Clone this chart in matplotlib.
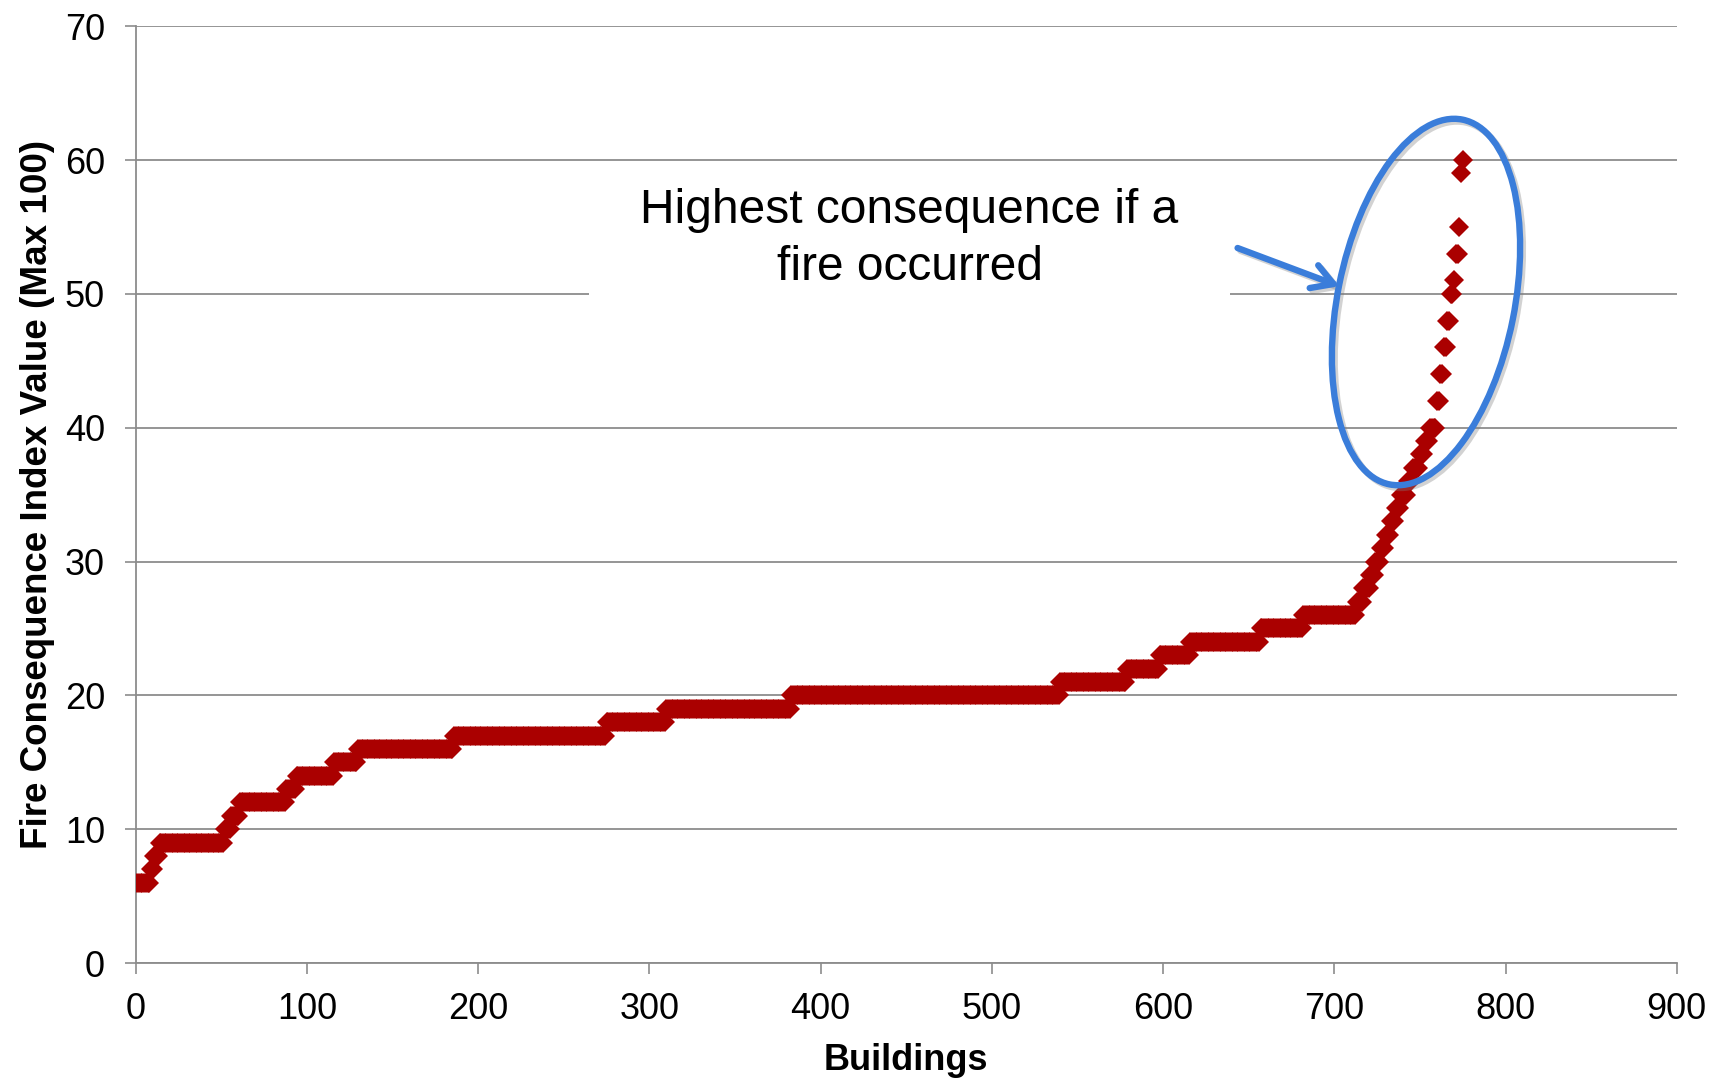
import numpy as np
import matplotlib
matplotlib.use("Agg")
from matplotlib import pyplot as plt
from matplotlib.patches import Ellipse, Rectangle
import matplotlib.patheffects as pe

plt.rcParams['font.family'] = ['Liberation Sans', 'DejaVu Sans']

## Sorted index values, stored as levels and how many buildings sit on each level
levels = [6, 7, 8, 9, 10, 11, 12, 13, 14, 15, 16, 17, 18, 19, 20, 21, 22, 23, 24, 25, 26,
          27, 28, 29, 30, 31, 32, 33, 34, 35, 36, 37, 38, 39, 40,
          42, 44, 46, 48, 50, 51, 53, 55, 59, 60]
counts = [8, 2, 3, 38, 4, 5, 27, 6, 22, 14, 56, 89, 35, 73, 157, 39, 19, 18, 41, 25, 31,
          4, 4, 3, 3, 3, 3, 3, 3, 4, 3, 4, 3, 3, 4,
          2, 2, 2, 2, 2, 1, 2, 1, 1, 1]

x_ticks = [0, 100, 200, 300, 400, 500, 600, 700, 800, 900]
y_ticks = [0, 10, 20, 30, 40, 50, 60, 70]

values = np.repeat(levels, counts)
buildings = np.arange(1, len(values) + 1)

RED = '#AA0000'
BLUE = '#3A7DDA'
GRID = '#8C8C8C'

fig = plt.figure(figsize=(17.14, 10.79), dpi=100)
ax = fig.add_axes([0.0791, 0.1075, 0.8992, 0.8682])

ax.plot(buildings, values, linestyle='none', marker='D', markersize=10,
        markeredgewidth=0, color=RED, zorder=3)

ax.set_xlim(0, 900)
ax.set_ylim(0, 70)
ax.set_xticks(x_ticks)
ax.set_yticks(y_ticks)
ax.tick_params(axis='both', labelsize=26, length=8, width=1.2, color=GRID)
ax.tick_params(axis='x', pad=13)
ax.tick_params(axis='y', pad=14)

ax.set_axisbelow(True)
ax.yaxis.grid(True, color=GRID, linewidth=1.3)
for side in ['top', 'right']:
    ax.spines[side].set_visible(False)
for side in ['left', 'bottom']:
    ax.spines[side].set_color(GRID)
    ax.spines[side].set_linewidth(1.3)

ax.set_xlabel('Buildings', fontsize=26, fontweight='bold')
ax.set_ylabel('Fire Consequence Index Value (Max 100)', fontsize=26.5, fontweight='bold')
ax.xaxis.set_label_coords(0.5, -0.085)
ax.yaxis.set_label_coords(-0.052, 0.5)

# white box behind the callout text (hides the gridline there)
ax.add_patch(Rectangle((265, 47), 374, 11, facecolor='white', edgecolor='none', zorder=1))
ax.text(452, 54.1, 'Highest consequence if a\nfire occurred', fontsize=34.5,
        ha='center', va='center', multialignment='center', linespacing=1.35, zorder=4)

shadow = [pe.SimpleLineShadow(offset=(2, -2), shadow_color='0.5', alpha=0.35), pe.Normal()]

ax.annotate('', xy=(704.5, 50.5), xytext=(642, 53.5),
            arrowprops=dict(arrowstyle='->,head_length=0.6,head_width=0.35',
                            mutation_scale=25, lw=4.6, color=BLUE,
                            path_effects=shadow),
            zorder=5)

# ellipse drawn in figure inches so it keeps its shape
ell = Ellipse((14.26, 7.77), 3.72, 1.77, angle=78.7, fill=False,
              edgecolor=BLUE, linewidth=4.6, transform=fig.dpi_scale_trans, zorder=5)
ell.set_path_effects(shadow)
fig.add_artist(ell)

fig.savefig('out.png', dpi=100)
